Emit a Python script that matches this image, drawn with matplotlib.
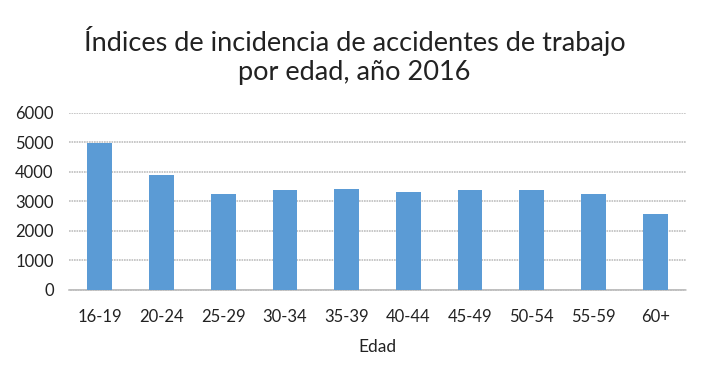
import matplotlib
matplotlib.use("Agg")
import matplotlib.pyplot as plt

plt.rcParams['font.family'] = ['Lato', 'DejaVu Sans']

edades = ['16-19', '20-24', '25-29', '30-34', '35-39', '40-44',
          '45-49', '50-54', '55-59', '60+']
indices = [4980, 3890, 3250, 3390, 3420, 3320, 3390, 3390, 3250, 2570]
yticks = [0, 1000, 2000, 3000, 4000, 5000, 6000]

fig = plt.figure(figsize=(7.09, 3.84), dpi=100)
ax = fig.add_axes([0.0973, 0.2448, 0.8703, 0.4617])

x = range(len(edades))
ax.bar(x, indices, width=0.4, color='#5B9BD5', zorder=3)

ax.set_xlim(-0.5, len(edades) - 0.5)
ax.set_ylim(0, 6000)
ax.set_yticks(yticks)
ax.set_xticks(list(x))
ax.set_xticklabels(edades)
ax.grid(axis='y', color='#BFBFBF', linestyle=(0, (1, 0.5)), linewidth=1.2, zorder=0)
for s in ['top', 'right', 'left']:
    ax.spines[s].set_visible(False)
ax.spines['bottom'].set_color('#BFBFBF')
ax.spines['bottom'].set_linestyle((0, (1, 0.5)))
ax.spines['bottom'].set_linewidth(1.2)
ax.tick_params(axis='both', length=0, labelsize=12, colors='#222222')
ax.tick_params(axis='y', pad=11)
ax.tick_params(axis='x', pad=14)
ax.set_xlabel('Edad', fontsize=12.5, color='#222222', labelpad=10)

fig.text(0.5, 0.855, 'Índices de incidencia de accidentes de trabajo\npor edad, año 2016',
         ha='center', va='center', fontsize=19.5, color='#222222', linespacing=1.2)

fig.savefig('out.png', dpi=100)
